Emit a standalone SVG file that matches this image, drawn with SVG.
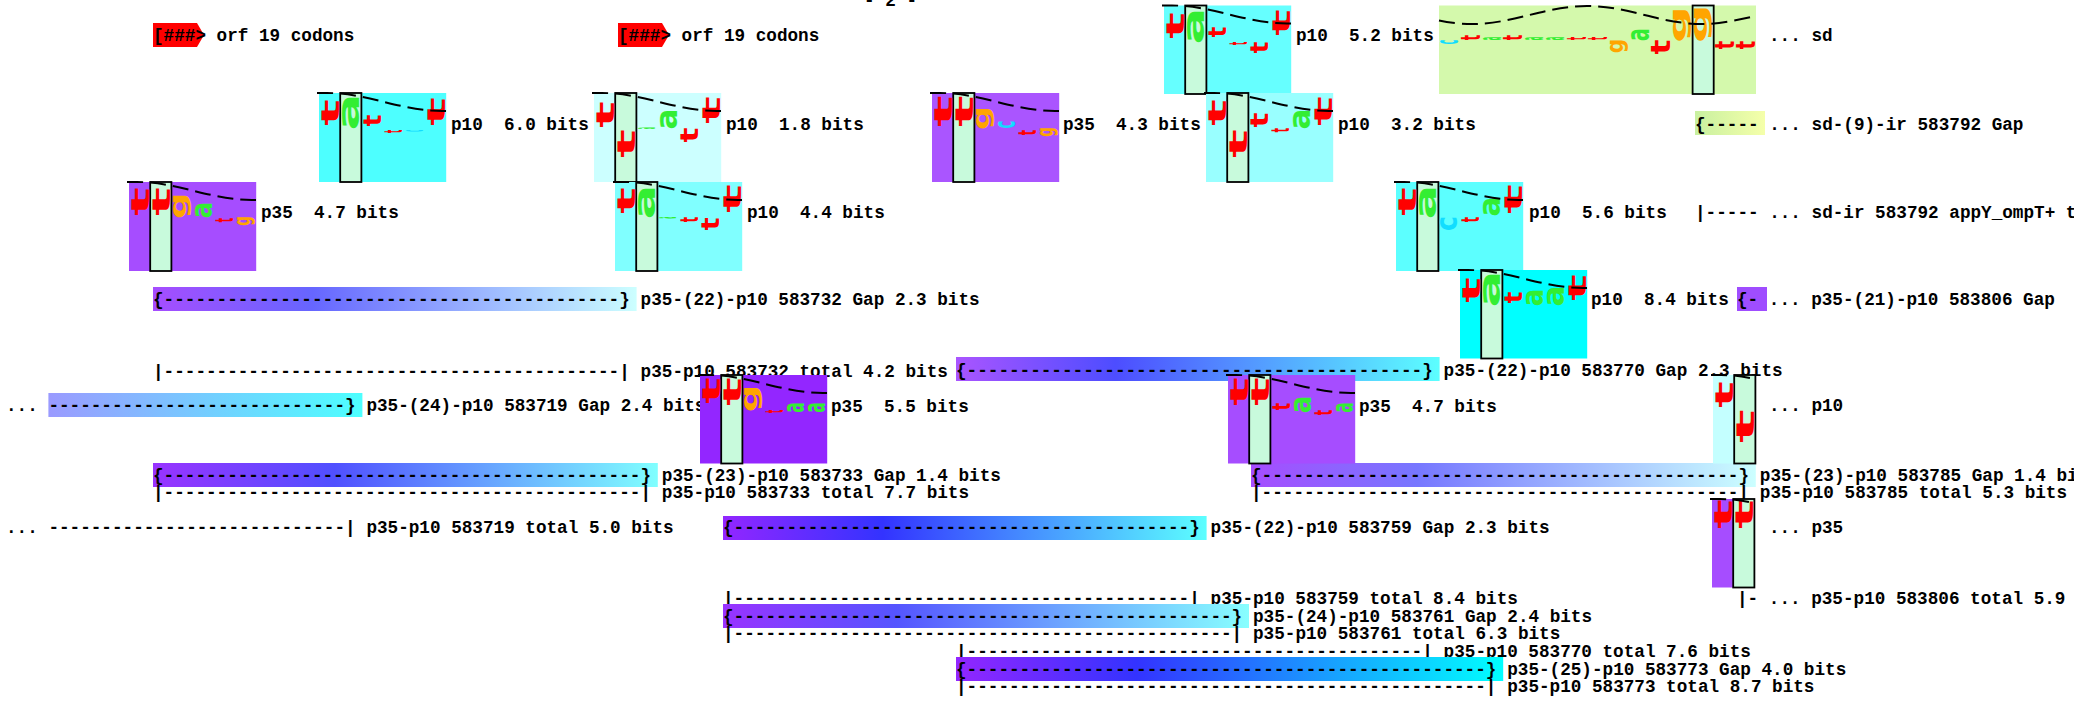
<svg xmlns="http://www.w3.org/2000/svg" width="2074" height="702" viewBox="0 0 2074 702">
<style>
text{font-family:"Liberation Mono","Courier New",monospace;font-size:17.66px;font-weight:bold;fill:#000;white-space:pre}
.lg{font-family:"DejaVu Sans",sans-serif;font-size:20px;font-weight:bold;text-anchor:middle;white-space:normal}
.ct{fill:#ff0000}.ca{fill:#33ee33}.cg{fill:#ffa500}.cc{fill:#11ddff}
.col{fill:#c8fadc;stroke:#000;stroke-width:1.8}
.helix{fill:none;stroke:#000;stroke-width:2;stroke-dasharray:16 7}
.orf{fill:#ff0000}
</style>
<defs>
<text id="Lt" class="lg ct" transform="scale(0.694 1.111) translate(7.2 0) rotate(-90)">t</text>
<text id="La" class="lg ca" transform="scale(0.847 0.862) translate(5.5 0) rotate(-90)">a</text>
<text id="Lg" class="lg cg" transform="scale(0.625 0.833) translate(3.6 0) rotate(-90)">g</text>
<text id="Lc" class="lg cc" transform="scale(0.847 0.962) translate(5.5 0) rotate(-90)">c</text>
<linearGradient id="g1"><stop offset="0" stop-color="#a64dff"/><stop offset="0.33" stop-color="#6666ff"/><stop offset="1" stop-color="#ccffff"/></linearGradient>
<linearGradient id="g2"><stop offset="0" stop-color="#aa55ff"/><stop offset="0.33" stop-color="#4d4dff"/><stop offset="1" stop-color="#5cffff"/></linearGradient>
<linearGradient id="g3"><stop offset="0" stop-color="#9a9aff"/><stop offset="1" stop-color="#4dffff"/></linearGradient>
<linearGradient id="g4"><stop offset="0" stop-color="#9933ff"/><stop offset="0.36" stop-color="#5050ff"/><stop offset="1" stop-color="#80ffff"/></linearGradient>
<linearGradient id="g5"><stop offset="0" stop-color="#a64dff"/><stop offset="0.33" stop-color="#7777ff"/><stop offset="1" stop-color="#ccffff"/></linearGradient>
<linearGradient id="g6"><stop offset="0" stop-color="#9326ff"/><stop offset="0.33" stop-color="#3333ff"/><stop offset="1" stop-color="#5cffff"/></linearGradient>
<linearGradient id="g7"><stop offset="0" stop-color="#9933ff"/><stop offset="0.33" stop-color="#5555ff"/><stop offset="1" stop-color="#88ffff"/></linearGradient>
<linearGradient id="g8"><stop offset="0" stop-color="#9326ff"/><stop offset="0.33" stop-color="#3333ff"/><stop offset="1" stop-color="#00ffff"/></linearGradient>
<linearGradient id="g9"><stop offset="0" stop-color="#c8f0a0"/><stop offset="1" stop-color="#f5ffaa"/></linearGradient>
</defs>

<text x="864" y="6">- 2 -</text>

<g id="orf1">
<polygon class="orf" points="153,23 197,23 204,35 197,47 153,47"/>
<text x="153" y="41">[###&gt; orf 19 codons</text>
</g>
<g id="orf2">
<polygon class="orf" points="618,23 662,23 669,35 662,47 618,47"/>
<text x="618" y="41">[###&gt; orf 19 codons</text>
</g>

<g id="connectors">
<g id="gap-583792"><rect x="1695" y="111" width="70" height="24" fill="url(#g9)"/><text x="1695" y="130">{----- ... sd-(9)-ir 583792 Gap</text></g>
<g id="total-583792"><text x="1695" y="218">|----- ... sd-ir 583792 appY_ompT+ t</text></g>
<g id="gap-583732"><rect x="153" y="287" width="483.6" height="24" fill="url(#g1)"/><text x="153" y="305">{-------------------------------------------}</text><text x="640.6" y="305">p35-(22)-p10 583732 Gap 2.3 bits</text></g>
<g id="gap-583806"><rect x="1737" y="287" width="30" height="24" fill="#9f4dff"/><text x="1737" y="305">{- ... p35-(21)-p10 583806 Gap</text></g>
<g id="total-583732"><text x="153" y="377">|-------------------------------------------|</text><text x="640.6" y="377">p35-p10 583732 total 4.2 bits</text></g>
<g id="gap-583770"><rect x="956" y="357" width="483.6" height="24" fill="url(#g2)"/><text x="956" y="376">{-------------------------------------------}</text><text x="1443.6" y="376">p35-(22)-p10 583770 Gap 2.3 bits</text></g>
<g id="gap-583719"><text x="6" y="411">...</text><rect x="48.4" y="393" width="314" height="24" fill="url(#g3)"/><text x="48.4" y="411">----------------------------}</text><text x="366.4" y="411">p35-(24)-p10 583719 Gap 2.4 bits</text></g>
<g id="gap-583733"><rect x="153" y="463" width="504.8" height="24" fill="url(#g4)"/><text x="153" y="481">{---------------------------------------------}</text><text x="661.8" y="481">p35-(23)-p10 583733 Gap 1.4 bits</text></g>
<g id="gap-583785"><rect x="1251" y="463" width="504.8" height="24" fill="url(#g5)"/><text x="1251" y="481">{---------------------------------------------}</text><text x="1759.8" y="481">p35-(23)-p10 583785 Gap 1.4 bits</text></g>
<g id="total-583733"><text x="153" y="498">|---------------------------------------------|</text><text x="661.8" y="498">p35-p10 583733 total 7.7 bits</text></g>
<g id="total-583785"><text x="1251" y="498">|---------------------------------------------|</text><text x="1759.8" y="498">p35-p10 583785 total 5.3 bits</text></g>
<g id="total-583719"><text x="6" y="533">...</text><text x="48.4" y="533">----------------------------|</text><text x="366.4" y="533">p35-p10 583719 total 5.0 bits</text></g>
<g id="gap-583759"><rect x="723" y="516" width="483.6" height="24" fill="url(#g6)"/><text x="723" y="533">{-------------------------------------------}</text><text x="1210.6" y="533">p35-(22)-p10 583759 Gap 2.3 bits</text></g>
<g id="total-583759"><text x="723" y="604">|-------------------------------------------|</text><text x="1210.6" y="604">p35-p10 583759 total 8.4 bits</text></g>
<g id="total-583806"><text x="1737" y="604">|- ... p35-p10 583806 total 5.9</text></g>
<g id="gap-583761"><rect x="723" y="604" width="526" height="24" fill="url(#g7)"/><text x="723" y="622">{-----------------------------------------------}</text><text x="1253" y="622">p35-(24)-p10 583761 Gap 2.4 bits</text></g>
<g id="total-583761"><text x="723" y="639">|-----------------------------------------------|</text><text x="1253" y="639">p35-p10 583761 total 6.3 bits</text></g>
<g id="total-583770"><text x="956" y="657">|-------------------------------------------|</text><text x="1443.6" y="657">p35-p10 583770 total 7.6 bits</text></g>
<g id="gap-583773"><rect x="956" y="657" width="547.2" height="24" fill="url(#g8)"/><text x="956" y="675">{-------------------------------------------------}</text><text x="1507.2" y="675">p35-(25)-p10 583773 Gap 4.0 bits</text></g>
<g id="total-583773"><text x="956" y="692">|-------------------------------------------------|</text><text x="1507.2" y="692">p35-p10 583773 total 8.7 bits</text></g>
</g>

<g id="site-p10-5.2">
<rect x="1164" y="5.5" width="127.2" height="88.5" fill="#66ffff"/>
<rect class="col" x="1185.2" y="5.5" width="21.2" height="88.5"/>
<use href="#Lt" transform="translate(1174.6 25.5) scale(1.8 2.5)"/>
<use href="#La" transform="translate(1195.8 26) scale(1.8 3.2)"/>
<use href="#Lt" transform="translate(1217 32) scale(1.8 1.0)"/>
<use href="#Lt" transform="translate(1238.2 43.5) scale(1.8 0.3)"/>
<use href="#Lt" transform="translate(1259.4 47.5) scale(1.8 1.1)"/>
<use href="#Lt" transform="translate(1280.6 22.5) scale(1.8 2.5)"/>
<path class="helix" d="M1162,5.5 L1172,5.5 C1214,5.5 1245,23.5 1287,23.5 L1291,23.5"/>
<text x="1296" y="41">p10  5.2 bits</text>
</g>

<g id="site-sd">
<rect x="1439" y="5.5" width="317" height="88.5" fill="#d4f9ac"/>
<rect class="col" x="1692.6" y="5.5" width="21.1" height="88.5"/>
<use href="#Lc" transform="translate(1449.6 42) scale(1.9 0.4)"/>
<use href="#Lt" transform="translate(1470.7 37.5) scale(1.9 0.5)"/>
<use href="#La" transform="translate(1491.9 38.5) scale(1.9 0.3)"/>
<use href="#Lt" transform="translate(1513 37.5) scale(1.9 0.5)"/>
<use href="#La" transform="translate(1534.1 38.5) scale(1.9 0.3)"/>
<use href="#La" transform="translate(1555.3 38.5) scale(1.9 0.3)"/>
<use href="#Lt" transform="translate(1576.4 38.5) scale(1.9 0.3)"/>
<use href="#Lt" transform="translate(1597.5 38.5) scale(1.9 0.3)"/>
<use href="#Lg" transform="translate(1618.6 46) scale(1.9 1.2)"/>
<use href="#La" transform="translate(1639.8 34.5) scale(1.9 1.1)"/>
<use href="#Lt" transform="translate(1660.9 47) scale(1.9 1.4)"/>
<use href="#Lg" transform="translate(1682 24.5) scale(1.9 3.1)"/>
<use href="#Lg" transform="translate(1703.2 23.5) scale(1.9 3.3)"/>
<use href="#Lt" transform="translate(1724.3 45) scale(1.9 0.8)"/>
<use href="#Lt" transform="translate(1745.4 45) scale(1.9 0.8)"/>
<path class="helix" d="M1439,20.6 C1450,22.9 1462,24 1472,24 C1514,24 1545,6 1587,6 C1629,6 1660,24 1702,24 C1720,24 1740,19.5 1755,16.1"/>
<text x="1769" y="41">... sd</text>
</g>

<g id="site-p10-6.0">
<rect x="319" y="93" width="127.2" height="89" fill="#4dffff"/>
<rect class="col" x="340.2" y="93" width="21.2" height="89"/>
<use href="#Lt" transform="translate(329.6 112.5) scale(1.8 2.5)"/>
<use href="#La" transform="translate(350.8 112) scale(1.8 3.2)"/>
<use href="#Lt" transform="translate(372 120.5) scale(1.8 1.1)"/>
<use href="#Lt" transform="translate(393.2 131.5) scale(1.8 0.3)"/>
<use href="#Lc" transform="translate(414.4 130.75) scale(1.8 0.15)"/>
<use href="#Lt" transform="translate(435.6 111.5) scale(1.8 2.7)"/>
<path class="helix" d="M317,93 L327,93 C369,93 400,111 442,111 L446,111"/>
<text x="451" y="130">p10  6.0 bits</text>
</g>

<g id="site-p10-1.8">
<rect x="594" y="93" width="127.2" height="89" fill="#ccffff"/>
<rect class="col" x="615.2" y="93" width="21.2" height="89"/>
<use href="#Lt" transform="translate(604.6 114.5) scale(1.8 2.5)"/>
<use href="#Lt" transform="translate(625.8 143.5) scale(1.8 2.7)"/>
<use href="#La" transform="translate(647 128.25) scale(1.8 0.15)"/>
<use href="#La" transform="translate(668.2 119) scale(1.8 1.8)"/>
<use href="#Lt" transform="translate(689.4 135) scale(1.8 1.4)"/>
<use href="#Lt" transform="translate(710.6 110) scale(1.8 2.6)"/>
<path class="helix" d="M592,93 L602,93 C644,93 675,111 717,111 L721,111"/>
<text x="726" y="130">p10  1.8 bits</text>
</g>

<g id="site-p35-4.3">
<rect x="932" y="93" width="127.2" height="89" fill="#aa55ff"/>
<rect class="col" x="953.2" y="93" width="21.2" height="89"/>
<use href="#Lt" transform="translate(942.6 111) scale(1.8 3.0)"/>
<use href="#Lt" transform="translate(963.8 111) scale(1.8 3.0)"/>
<use href="#Lg" transform="translate(985 118) scale(1.8 2.0)"/>
<use href="#Lc" transform="translate(1006.2 124.5) scale(1.8 0.7)"/>
<use href="#Lt" transform="translate(1027.4 132.5) scale(1.8 0.5)"/>
<use href="#Lg" transform="translate(1048.6 132) scale(1.8 0.8)"/>
<path class="helix" d="M930,93 L940,93 C982,93 1013,111 1055,111 L1059,111"/>
<text x="1063" y="130">p35  4.3 bits</text>
</g>

<g id="site-p10-3.2">
<rect x="1206" y="93" width="127.2" height="89" fill="#99ffff"/>
<rect class="col" x="1227.2" y="93" width="21.2" height="89"/>
<use href="#Lt" transform="translate(1216.6 112.5) scale(1.8 2.5)"/>
<use href="#Lt" transform="translate(1237.8 143.5) scale(1.8 2.7)"/>
<use href="#Lt" transform="translate(1259 120) scale(1.8 1.4)"/>
<use href="#Lt" transform="translate(1280.2 130) scale(1.8 0.4)"/>
<use href="#La" transform="translate(1301.4 119) scale(1.8 1.8)"/>
<use href="#Lt" transform="translate(1322.6 111) scale(1.8 2.8)"/>
<path class="helix" d="M1204,93 L1214,93 C1256,93 1287,111 1329,111 L1333,111"/>
<text x="1338" y="130">p10  3.2 bits</text>
</g>

<g id="site-p35-4.7a">
<rect x="129" y="182" width="127.2" height="89" fill="#a64dff"/>
<rect class="col" x="150.2" y="182" width="21.2" height="89"/>
<use href="#Lt" transform="translate(139.6 201.5) scale(1.8 2.7)"/>
<use href="#Lt" transform="translate(160.8 201.5) scale(1.8 2.7)"/>
<use href="#Lg" transform="translate(182 206) scale(1.8 2.2)"/>
<use href="#La" transform="translate(203.2 210) scale(1.8 1.4)"/>
<use href="#Lt" transform="translate(224.4 220) scale(1.8 0.4)"/>
<use href="#Lg" transform="translate(245.6 221) scale(1.8 0.8)"/>
<path class="helix" d="M127,182 L137,182 C179,182 210,200 252,200 L256,200"/>
<text x="261" y="218">p35  4.7 bits</text>
</g>

<g id="site-p10-4.4">
<rect x="615" y="182" width="127.2" height="89" fill="#80ffff"/>
<rect class="col" x="636.2" y="182" width="21.2" height="89"/>
<use href="#Lt" transform="translate(625.6 200.5) scale(1.8 2.5)"/>
<use href="#La" transform="translate(646.8 202) scale(1.8 3.0)"/>
<use href="#La" transform="translate(668 217.75) scale(1.8 0.15)"/>
<use href="#Lt" transform="translate(689.2 219.5) scale(1.8 0.5)"/>
<use href="#Lt" transform="translate(710.4 224) scale(1.8 1.2)"/>
<use href="#Lt" transform="translate(731.6 198.5) scale(1.8 2.7)"/>
<path class="helix" d="M613,182 L623,182 C665,182 696,200 738,200 L742,200"/>
<text x="747" y="218">p10  4.4 bits</text>
</g>

<g id="site-p10-5.6">
<rect x="1396" y="182" width="127.2" height="89" fill="#5cffff"/>
<rect class="col" x="1417.2" y="182" width="21.2" height="89"/>
<use href="#Lt" transform="translate(1406.6 201.5) scale(1.8 2.7)"/>
<use href="#La" transform="translate(1427.8 202) scale(1.8 3.0)"/>
<use href="#Lc" transform="translate(1449 223.5) scale(1.8 1.3)"/>
<use href="#Lt" transform="translate(1470.2 219.5) scale(1.8 0.5)"/>
<use href="#La" transform="translate(1491.4 206.5) scale(1.8 1.7)"/>
<use href="#Lt" transform="translate(1512.6 199) scale(1.8 2.8)"/>
<path class="helix" d="M1394,182 L1404,182 C1446,182 1477,200 1519,200 L1523,200"/>
<text x="1529" y="218">p10  5.6 bits</text>
</g>

<g id="site-p10-8.4">
<rect x="1460" y="270" width="127.2" height="88.5" fill="#00ffff"/>
<rect class="col" x="1481.2" y="270" width="21.2" height="88.5"/>
<use href="#Lt" transform="translate(1470.6 290) scale(1.8 2.4)"/>
<use href="#La" transform="translate(1491.8 289) scale(1.8 3.2)"/>
<use href="#Lt" transform="translate(1513 297.5) scale(1.8 1.1)"/>
<use href="#La" transform="translate(1534.2 297.5) scale(1.8 1.5)"/>
<use href="#La" transform="translate(1555.4 296) scale(1.8 1.8)"/>
<use href="#Lt" transform="translate(1576.6 287.5) scale(1.8 2.5)"/>
<path class="helix" d="M1458,270 L1468,270 C1510,270 1541,288 1583,288 L1587,288"/>
<text x="1591" y="305">p10  8.4 bits</text>
</g>

<g id="site-p35-5.5">
<rect x="700" y="375" width="127.2" height="88.5" fill="#9326ff"/>
<rect class="col" x="721.2" y="375" width="21.2" height="88.5"/>
<use href="#Lt" transform="translate(710.6 390.5) scale(1.8 2.5)"/>
<use href="#Lt" transform="translate(731.8 391.5) scale(1.8 2.7)"/>
<use href="#Lg" transform="translate(753 398.5) scale(1.8 2.3)"/>
<use href="#Lt" transform="translate(774.2 411.5) scale(1.8 0.3)"/>
<use href="#La" transform="translate(795.4 407.5) scale(1.8 0.9)"/>
<use href="#La" transform="translate(816.6 407.5) scale(1.8 0.9)"/>
<path class="helix" d="M698,375 L708,375 C750,375 781,393 823,393 L827,393"/>
<text x="831" y="412">p35  5.5 bits</text>
</g>

<g id="site-p35-4.7b">
<rect x="1228" y="375" width="127.2" height="88.5" fill="#a64dff"/>
<rect class="col" x="1249.2" y="375" width="21.2" height="88.5"/>
<use href="#Lt" transform="translate(1238.6 391.5) scale(1.8 2.7)"/>
<use href="#Lt" transform="translate(1259.8 391.5) scale(1.8 2.7)"/>
<use href="#Lt" transform="translate(1281 406.5) scale(1.8 0.7)"/>
<use href="#La" transform="translate(1302.2 404.5) scale(1.8 1.5)"/>
<use href="#Lt" transform="translate(1323.4 412.5) scale(1.8 0.5)"/>
<use href="#La" transform="translate(1344.6 407.5) scale(1.8 0.9)"/>
<path class="helix" d="M1226,375 L1236,375 C1278,375 1309,393 1351,393 L1355,393"/>
<text x="1359" y="412">p35  4.7 bits</text>
</g>

<g id="site-p10-edge">
<rect x="1713" y="375" width="42.4" height="88.5" fill="#c4ffff"/>
<rect class="col" x="1734.2" y="375" width="21.2" height="88.5"/>
<use href="#Lt" transform="translate(1723.6 394.5) scale(1.8 2.5)"/>
<use href="#Lt" transform="translate(1744.8 426) scale(1.8 3.2)"/>
<path class="helix" d="M1711,375 L1721,375 C1735,375 1745,377 1755,379"/>
<text x="1769" y="411">... p10</text>
</g>

<g id="site-p35-edge">
<rect x="1712" y="499" width="42.4" height="88.5" fill="#a64dff"/>
<rect class="col" x="1733.2" y="499" width="21.2" height="88.5"/>
<use href="#Lt" transform="translate(1722.6 514) scale(1.8 2.8)"/>
<use href="#Lt" transform="translate(1743.8 514) scale(1.8 2.8)"/>
<path class="helix" d="M1710,499 L1720,499 C1734,499 1744,501 1754,503"/>
<text x="1769" y="533">... p35</text>
</g>
</svg>
